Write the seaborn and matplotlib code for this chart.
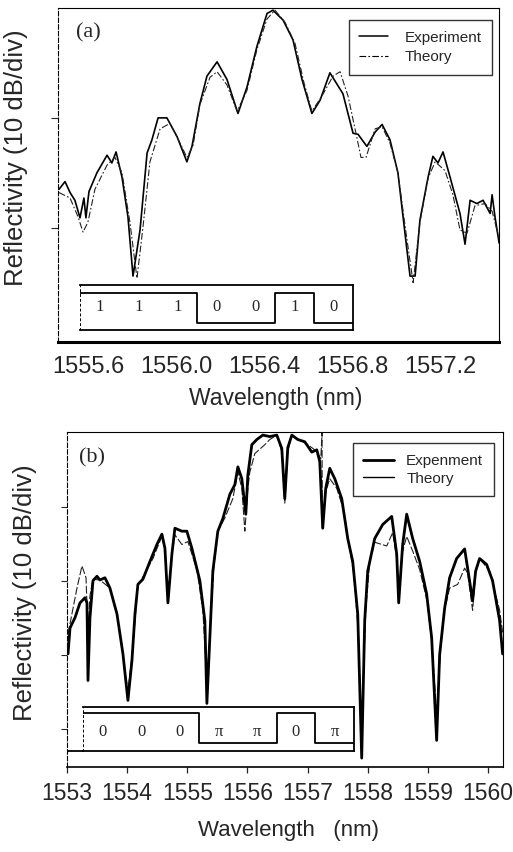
import numpy as np
import pandas as pd
import matplotlib
matplotlib.use('Agg')
import matplotlib.pyplot as plt
import seaborn as sns
from matplotlib.lines import Line2D

# ---- panel (a): amplitude code 1110010 ----
wl_a_exp = [1555.465, 1555.492, 1555.515, 1555.537, 1555.560, 1555.578, 1555.587, 1555.601,
            1555.637, 1555.683, 1555.705, 1555.724, 1555.751, 1555.778, 1555.801, 1555.833,
            1555.865, 1555.887, 1555.915, 1555.955, 1556.001, 1556.046, 1556.069, 1556.105,
            1556.137, 1556.183, 1556.228, 1556.278, 1556.319, 1556.364, 1556.410, 1556.437,
            1556.483, 1556.528, 1556.569, 1556.614, 1556.651, 1556.696, 1556.755, 1556.801,
            1556.824, 1556.864, 1556.901, 1556.933, 1556.969, 1557.005, 1557.037, 1557.060,
            1557.083, 1557.105, 1557.142, 1557.164, 1557.187, 1557.210, 1557.242, 1557.287,
            1557.310, 1557.333, 1557.364, 1557.392, 1557.424, 1557.433, 1557.446, 1557.465]
db_a_exp = [-16.5, -15.8, -16.8, -17.5, -19.1, -17.3, -19.1, -16.7,
            -15.0, -13.4, -14.1, -13.1, -15.4, -19.0, -24.4, -20.2,
            -13.2, -12.0, -10.0, -10.0, -11.7, -14.0, -12.6, -8.7,
            -6.2, -4.9, -6.5, -9.6, -7.2, -3.5, -0.5, -0.2,
            -1.1, -2.9, -6.5, -9.6, -8.4, -5.9, -7.8, -11.4,
            -11.5, -12.6, -11.3, -10.6, -12.0, -15.0, -20.5, -24.4,
            -24.4, -19.3, -15.4, -13.5, -14.1, -13.1, -15.4, -18.7,
            -21.5, -17.5, -17.8, -17.5, -18.7, -17.0, -19.0, -21.4]
wl_a_th = [1555.465, 1555.515, 1555.551, 1555.574, 1555.596, 1555.628, 1555.683, 1555.719,
           1555.751, 1555.787, 1555.819, 1555.846, 1555.878, 1555.924, 1555.969, 1556.015,
           1556.046, 1556.074, 1556.105, 1556.151, 1556.183, 1556.228, 1556.274, 1556.319,
           1556.364, 1556.410, 1556.446, 1556.492, 1556.537, 1556.578, 1556.614, 1556.660,
           1556.710, 1556.742, 1556.778, 1556.810, 1556.837, 1556.860, 1556.901, 1556.933,
           1556.969, 1557.005, 1557.042, 1557.074, 1557.105, 1557.142, 1557.174, 1557.219,
           1557.255, 1557.287, 1557.319, 1557.355, 1557.401, 1557.433, 1557.465]
db_a_th = [-16.8, -17.3, -19.0, -20.4, -19.5, -16.5, -14.3, -13.6,
           -15.0, -19.5, -24.6, -20.0, -14.0, -11.0, -10.5, -12.3,
           -13.6, -12.5, -8.8, -6.3, -5.8, -7.0, -9.4, -7.5,
           -3.8, -1.0, -0.2, -1.3, -3.2, -6.8, -9.4, -8.0,
           -6.2, -5.8, -8.0, -11.0, -13.6, -13.6, -11.0, -10.8,
           -12.3, -15.0, -20.5, -25.0, -19.5, -15.5, -14.0, -14.8,
           -17.0, -20.2, -20.5, -18.0, -17.8, -18.5, -21.0]
xticks_a = [1555.6, 1556.0, 1556.4, 1556.8, 1557.2]
bits_a = [1, 1, 1, 0, 0, 1, 0]
labels_a = ['1', '1', '1', '0', '0', '1', '0']

# ---- panel (b): phase code ----
wl_b_exp = [1553.017, 1553.050, 1553.133, 1553.216, 1553.299, 1553.332, 1553.349, 1553.382,
            1553.432, 1553.498, 1553.548, 1553.631, 1553.714, 1553.831, 1553.930, 1554.013,
            1554.080, 1554.130, 1554.179, 1554.262, 1554.379, 1554.495, 1554.578, 1554.628,
            1554.678, 1554.744, 1554.794, 1554.910, 1554.993, 1555.076, 1555.209, 1555.292,
            1555.326, 1555.375, 1555.425, 1555.508, 1555.591, 1555.708, 1555.791, 1555.841,
            1555.907, 1555.973, 1556.007, 1556.073, 1556.156, 1556.256, 1556.372, 1556.488,
            1556.571, 1556.621, 1556.671, 1556.738, 1556.837, 1556.953, 1557.070, 1557.153,
            1557.203, 1557.252, 1557.302, 1557.369, 1557.452, 1557.568, 1557.668, 1557.751,
            1557.834, 1557.900, 1557.950, 1558.000, 1558.116, 1558.249, 1558.399, 1558.482,
            1558.515, 1558.581, 1558.648, 1558.748, 1558.864, 1558.980, 1559.063, 1559.146,
            1559.196, 1559.279, 1559.362, 1559.478, 1559.611, 1559.661, 1559.744, 1559.794,
            1559.860, 1559.977, 1560.076, 1560.193, 1560.243]
db_b_exp = [-29.9, -26.4, -25.0, -23.0, -22.3, -23.0, -33.5, -25.0,
            -20.0, -19.4, -19.9, -19.6, -21.0, -24.5, -29.9, -36.2,
            -30.8, -24.5, -20.5, -19.8, -17.4, -15.1, -13.7, -15.6,
            -23.0, -16.4, -12.9, -13.3, -13.3, -15.6, -20.0, -25.4,
            -36.6, -27.7, -18.7, -13.3, -11.6, -8.3, -7.0, -4.6,
            -6.2, -11.0, -5.7, -1.6, -0.9, -0.3, -0.5, -0.3,
            -2.1, -8.9, -2.0, -0.3, -0.9, -1.2, -2.6, -2.3,
            -3.9, -12.9, -7.5, -4.8, -6.2, -8.9, -14.3, -17.4,
            -24.5, -44.0, -25.4, -18.7, -14.3, -12.4, -11.3, -16.4,
            -23.0, -15.1, -11.0, -14.3, -17.4, -21.8, -27.7, -41.6,
            -30.0, -23.7, -19.6, -17.0, -15.7, -18.3, -22.7, -18.7,
            -17.0, -17.8, -20.0, -25.4, -29.9]
wl_b_th = [1553.017, 1553.166, 1553.249, 1553.316, 1553.349, 1553.382, 1553.432, 1553.548,
           1553.714, 1553.831, 1553.930, 1554.013, 1554.096, 1554.179, 1554.262, 1554.429,
           1554.578, 1554.628, 1554.678, 1554.744, 1554.794, 1554.910, 1555.010, 1555.159,
           1555.259, 1555.326, 1555.392, 1555.442, 1555.508, 1555.625, 1555.757, 1555.841,
           1555.907, 1555.957, 1556.007, 1556.040, 1556.123, 1556.289, 1556.372, 1556.488,
           1556.571, 1556.621, 1556.671, 1556.738, 1556.837, 1556.987, 1557.153, 1557.220,
           1557.240, 1557.245, 1557.302, 1557.369, 1557.485, 1557.585, 1557.684, 1557.768,
           1557.834, 1557.900, 1557.967, 1558.033, 1558.116, 1558.316, 1558.415, 1558.482,
           1558.515, 1558.581, 1558.648, 1558.748, 1558.864, 1558.980, 1559.063, 1559.146,
           1559.213, 1559.279, 1559.362, 1559.495, 1559.611, 1559.661, 1559.744, 1559.794,
           1559.860, 1560.027, 1560.193, 1560.243]
db_b_th = [-27.2, -21.0, -18.0, -19.6, -27.0, -22.0, -19.8, -19.9,
           -21.0, -24.5, -30.0, -35.0, -29.0, -20.5, -19.5, -17.0,
           -14.0, -15.8, -22.5, -16.5, -13.8, -15.1, -14.7, -18.5,
           -24.0, -34.0, -25.0, -18.0, -13.3, -11.5, -8.9, -5.3,
           -7.5, -13.3, -7.5, -5.3, -2.8, -1.6, -0.9, -0.3,
           -2.5, -9.5, -2.5, -0.3, -0.8, -1.5, -2.5, -3.5,
           0.0, -13.0, -8.0, -6.2, -7.5, -10.1, -15.0, -19.0,
           -26.0, -40.0, -24.0, -17.5, -14.8, -15.3, -13.5, -17.0,
           -22.5, -16.0, -14.0, -16.0, -18.5, -22.5, -28.0, -38.0,
           -29.0, -24.0, -21.0, -20.5, -18.3, -19.0, -24.0, -19.0,
           -17.0, -18.7, -24.0, -27.0]
xticks_b = [1553, 1554, 1555, 1556, 1557, 1558, 1559, 1560]
bits_b = [1, 1, 1, 0, 0, 1, 0]
labels_b = ['0', '0', '0', 'π', 'π', '0', 'π']

sns.set_style('white')
plt.rcParams['font.family'] = ['Liberation Sans', 'DejaVu Sans']
serif = ['Liberation Serif', 'DejaVu Serif']

fig = plt.figure(figsize=(5.13, 8.52), dpi=100)
ax_a = fig.add_axes([0.113, 0.5986, 0.860, 0.392])
ax_b = fig.add_axes([0.1306, 0.0998, 0.850, 0.393])


def draw_code(ax, rect, bits, labels, hi, lo, ty):
    ins = ax.inset_axes(rect)
    ins.set_xlim(0, len(bits))
    ins.set_ylim(0, 1)
    lv = [hi if b else lo for b in bits]
    ins.step(np.arange(len(bits) + 1), lv + [lv[-1]], where='post', color='black', lw=1.3)
    for i, t in enumerate(labels):
        ins.text(i + 0.5, ty, t, ha='center', va='center', family=serif, fontsize=12)
    ins.set_xticks([])
    ins.set_yticks([])
    ins.patch.set_alpha(0)
    for s in ins.spines.values():
        s.set_linewidth(1.3)
        s.set_color('black')
    ins.spines['left'].set_linestyle((0, (2, 3)))
    ins.spines['left'].set_linewidth(0.7)
    return ins


# ---- (a) ----
sns.lineplot(x=wl_a_exp, y=db_a_exp, ax=ax_a, color='black', lw=1.2, estimator=None, sort=False)
sns.lineplot(x=wl_a_th, y=db_a_th, ax=ax_a, color='#222222', lw=0.8, estimator=None, sort=False)
ax_a.lines[-1].set_linestyle((0, (6, 2, 1.5, 2)))
ax_a.set_xlim(1555.46, 1557.465)
ax_a.set_ylim(-30.4, 0)
ax_a.set_xticks(xticks_a)
ax_a.set_xticklabels([f'{v:.1f}' for v in xticks_a], fontsize=17)
ax_a.set_yticks([-10, -20])
ax_a.set_yticklabels([])
ax_a.tick_params(axis='x', length=0, pad=10)
ax_a.tick_params(axis='y', direction='out', length=5, width=0.8, left=True)
for s in ax_a.spines.values():
    s.set_linewidth(0.8)
    s.set_color('black')
ax_a.spines['bottom'].set_linewidth(2.2)
ax_a.spines['left'].set_linestyle((0, (4, 2)))
ax_a.set_xlabel('Wavelength (nm)', fontsize=16.5)
ax_a.xaxis.set_label_coords(0.494, -0.135)
ax_a.set_ylabel('Reflectivity (10 dB/div)', fontsize=18.5)
ax_a.yaxis.set_label_coords(-0.068, 0.551)
ax_a.text(0.068, 0.925, '(a)', transform=ax_a.transAxes, family=serif, fontsize=16,
          ha='center', va='center')
leg = ax_a.legend(handles=[Line2D([], [], color='black', lw=1.1),
                           Line2D([], [], color='black', lw=0.8, ls=(0, (6, 2, 1.5, 2)))],
                  labels=['Experiment', 'Theory'], loc='upper right',
                  bbox_to_anchor=(0.984, 0.964), frameon=True, fancybox=False,
                  edgecolor='black', fontsize=11, handlelength=1.85, borderpad=0.7,
                  labelspacing=0.35, handletextpad=1.1, borderaxespad=0)
leg.get_frame().set_linewidth(1.0)
draw_code(ax_a, [0.050, 0.036, 0.619, 0.135], bits_a, labels_a, 0.82, 0.16, 0.51)

# ---- (b) ----
sns.lineplot(x=wl_b_th, y=db_b_th, ax=ax_b, color='#222222', lw=0.8, estimator=None, sort=False)
ax_b.lines[-1].set_linestyle((0, (7, 2)))
sns.lineplot(x=wl_b_exp, y=db_b_exp, ax=ax_b, color='black', lw=2.0, estimator=None, sort=False)
ax_b.set_xlim(1553.0, 1560.25)
ax_b.set_ylim(-45.2, 0.1)
ax_b.set_xticks(xticks_b)
ax_b.set_xticklabels([str(v) for v in xticks_b], fontsize=16.5)
ax_b.set_yticks([-10, -20, -30, -40])
ax_b.set_yticklabels([])
ax_b.tick_params(axis='x', direction='out', length=4, width=0.9, bottom=True, pad=7)
ax_b.tick_params(axis='y', direction='out', length=4, width=0.8, left=True)
for s in ax_b.spines.values():
    s.set_linewidth(0.8)
    s.set_color('black')
ax_b.spines['bottom'].set_linewidth(1.2)
ax_b.spines['left'].set_linestyle((0, (4, 2)))
ax_b.set_xlabel('Wavelength   (nm)', fontsize=16)
ax_b.xaxis.set_label_coords(0.507, -0.158)
ax_b.set_ylabel('Reflectivity (10 dB/div)', fontsize=18.5)
ax_b.yaxis.set_label_coords(-0.069, 0.52)
ax_b.text(0.057, 0.922, '(b)', transform=ax_b.transAxes, family=serif, fontsize=16,
          ha='center', va='center')
leg = ax_b.legend(handles=[Line2D([], [], color='black', lw=2.0),
                           Line2D([], [], color='black', lw=1.0)],
                  labels=['Expenment', 'Theory'], loc='upper right',
                  bbox_to_anchor=(0.979, 0.967), frameon=True, fancybox=False,
                  edgecolor='black', fontsize=11, handlelength=2.0, borderpad=0.7,
                  labelspacing=0.25, handletextpad=0.8, borderaxespad=0)
leg.get_frame().set_linewidth(1.0)
draw_code(ax_b, [0.037, 0.048, 0.621, 0.131], bits_b, labels_b, 0.86, 0.18, 0.43)
ax_b.axhline(0.048, xmin=0, xmax=0.037, color='black', lw=1.3)
ax_b.lines[-1].set_transform(ax_b.transAxes)

fig.savefig('out.png', dpi=100)
